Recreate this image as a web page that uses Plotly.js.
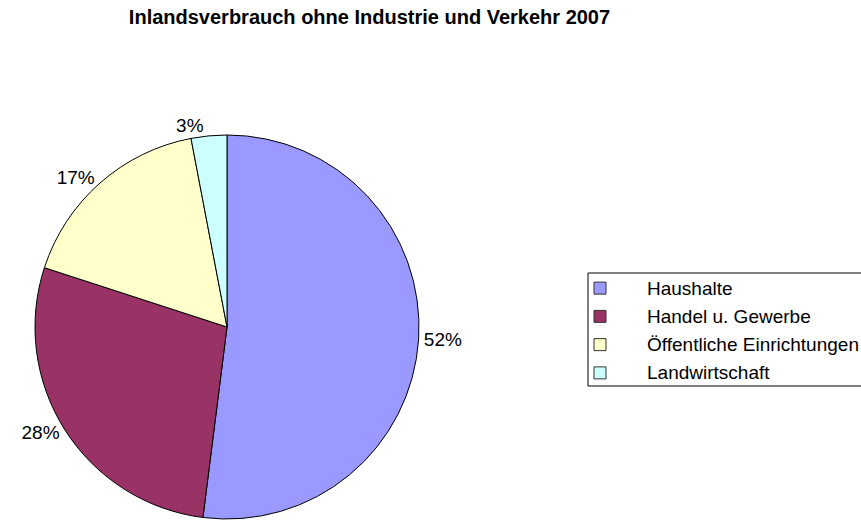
<!DOCTYPE html>
<html><head><meta charset="utf-8">
<script src="https://cdn.plot.ly/plotly-3.0.1.min.js"></script>
<style>html,body{margin:0;padding:0;background:#fff}#chart{width:861px;height:520px}</style>
</head><body><div id="chart"></div>
<script>
const categories = ["Haushalte", "Handel u. Gewerbe", "Öffentliche Einrichtungen", "Landwirtschaft"];
const shares = [52, 28, 17, 3];
const sliceColors = ["#9999FF", "#993366", "#FFFFCC", "#CCFFFF"];
const chartTitle = "Inlandsverbrauch ohne Industrie und Verkehr 2007";

const FONT = "Liberation Sans, Arial, sans-serif";
const W = 861, H = 520;
const px = x => x / W;
const py = y => 1 - y / H;

const data = [{
  type: "pie",
  labels: categories,
  values: shares,
  sort: false,
  direction: "clockwise",
  rotation: 0,
  marker: {colors: sliceColors, line: {color: "#000", width: 1}},
  texttemplate: "%{percent:.0%}",
  textposition: "outside",
  outsidetextfont: {family: FONT, size: 19, color: "#000"},
  domain: {x: [px(35), px(419)], y: [py(519), py(135)]},
  hoverinfo: "none",
  automargin: false,
  showlegend: false
}];

// legend drawn as layout decoration, built from the category / colour arrays
const legTop = 273, legBottom = 386, legLeft = 588;
const rowH = (legBottom - legTop) / categories.length;
const shapes = [{
  type: "rect", xref: "paper", yref: "paper",
  x0: px(legLeft), x1: px(900), y0: py(legBottom), y1: py(legTop),
  line: {color: "#000", width: 1}, fillcolor: "rgba(0,0,0,0)"
}];
const annotations = [];
categories.forEach((c, i) => {
  const cy = legTop + rowH * (i + 0.5) + 1;
  shapes.push({
    type: "rect", xref: "paper", yref: "paper",
    x0: px(594), x1: px(606), y0: py(cy + 6), y1: py(cy - 6),
    line: {color: "#333", width: 1}, fillcolor: sliceColors[i]
  });
  annotations.push({
    xref: "paper", yref: "paper", x: px(645), y: py(cy),
    xanchor: "left", yanchor: "middle", showarrow: false,
    text: c, font: {family: FONT, size: 19, color: "#000"}
  });
});

const layout = {
  width: W, height: H,
  margin: {l: 0, r: 0, t: 0, b: 0},
  paper_bgcolor: "#fff",
  font: {family: FONT, size: 18, color: "#000"},
  title: {text: "<b>" + chartTitle + "</b>", x: px(369.5), xanchor: "center", y: py(17), yanchor: "middle",
          font: {family: FONT, size: 20, color: "#000"}},
  showlegend: false,
  shapes: shapes,
  annotations: annotations
};

Plotly.newPlot("chart", data, layout, {displayModeBar: false, staticPlot: true});
</script></body></html>
